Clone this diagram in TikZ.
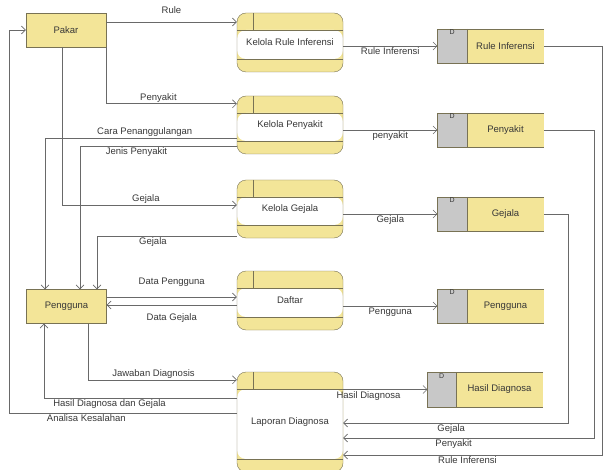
\documentclass[tikz,border=0pt]{standalone}
\usepackage{fontspec}
\setmainfont{Liberation Sans}
\usetikzlibrary{arrows.meta, positioning}
\definecolor{dfdyellow}{RGB}{243,229,152}
\definecolor{dfdgray}{RGB}{200,200,200}
\definecolor{dfdline}{RGB}{105,105,105}
\definecolor{dfdedge}{RGB}{120,114,84}
\definecolor{dfdtext}{RGB}{55,55,55}

\begin{document}
\begin{tikzpicture}[
    x=1pt, y=-1pt,
    font=\fontsize{9.5}{11}\selectfont,
    entity/.style={rectangle, draw=dfdedge, fill=dfdyellow, minimum width=80pt, minimum height=34pt, inner sep=0pt, text=dfdtext},
    process/.style={rectangle, rounded corners=9pt, draw=dfdedge, fill=dfdyellow, minimum width=106pt, inner sep=0pt, text=dfdtext,
        path picture={
            \fill[white] ([yshift=-17pt]path picture bounding box.north west) rectangle ([yshift=13pt]path picture bounding box.south east);
            \draw[dfdedge] ([yshift=-17pt]path picture bounding box.north west) -- ([yshift=-17pt]path picture bounding box.north east);
            \draw[dfdedge] ([yshift=13pt]path picture bounding box.south west) -- ([yshift=13pt]path picture bounding box.south east);
            \draw[dfdedge] ([xshift=16pt]path picture bounding box.north west) -- ([xshift=16pt, yshift=-17pt]path picture bounding box.north west);
        }},
    store/.style={rectangle, fill=dfdyellow, minimum width=77pt, minimum height=34pt, inner sep=0pt, text=dfdtext},
    storeid/.style={rectangle, fill=dfdgray, minimum width=29pt, minimum height=34pt, inner sep=0pt},
    flow/.style={draw=dfdline, line width=0.6pt, -{Straight Barb[length=4pt, width=8pt]}},
    lbl/.style={text=dfdtext, inner sep=1.5pt}
]
\useasboundingbox (0,0) rectangle (604,470);

% External entities
\node[entity] (pakar) at (66,30) {Pakar};
\node[entity] (pengguna) at (66.5,306.5) {Pengguna};

% Processes
\node[process, minimum height=59pt] (kRule) at (290,42.5) {Kelola Rule Inferensi};
\node[process, minimum height=58pt] (kPenyakit) at (290,125) {Kelola Penyakit};
\node[process, minimum height=58pt] (kGejala) at (290,209) {Kelola Gejala};
\node[process, minimum height=59pt] (daftar) at (290,300.5) {Daftar};
\node[process, minimum height=100pt] (laporan) at (290,422) {Laporan Diagnosa};

% Data stores
\node[store] (sRule) at (505.5,46) {Rule Inferensi};
\node[store] (sPenyakit) at (505.5,130) {Penyakit};
\node[store] (sGejala) at (505.5,214) {Gejala};
\node[store] (sPengguna) at (505.5,306) {Pengguna};
\node[store, minimum width=87pt] (sHasil) at (499.5,389.5) {Hasil Diagnosa};
\node[storeid, left=0pt of sRule] (dRule) {};
\node[storeid, left=0pt of sPenyakit] (dPenyakit) {};
\node[storeid, left=0pt of sGejala] (dGejala) {};
\node[storeid, left=0pt of sPengguna] (dPengguna) {};
\node[storeid, minimum width=28pt, left=0pt of sHasil] (dHasil) {};
\foreach \s in {Rule,Penyakit,Gejala,Pengguna,Hasil}{
    \draw[dfdedge] (s\s.north east) -- (d\s.north west) -- (d\s.south west) -- (s\s.south east);
    \draw[dfdedge] (d\s.north east) -- (d\s.south east);
    \node[font=\fontsize{7}{8}\selectfont, text=dfdtext, anchor=north, inner sep=1pt] (id\s) at (d\s.north) {D};
}

% Flows from Pakar
\draw[flow] ([yshift=8pt]pakar.east) -- node[lbl, above=7pt] {Rule} ([yshift=8pt]pakar.east -| kRule.west);
\draw[flow] (pakar.south east) |- node[lbl, above, pos=0.7] {Penyakit} ([yshift=-8pt]kPenyakit.north west);
\draw[flow] ([xshift=-4pt]pakar.south) |- node[lbl, above, pos=0.74] {Gejala} ([yshift=4pt]kGejala.west);

% Flows to Pengguna
\draw[flow] ([yshift=-13pt]kPenyakit.west) -| node[lbl, above, pos=0.24] {Cara Penanggulangan} ([xshift=-21.5pt]pengguna.north);
\draw[flow] ([yshift=-21pt]kPenyakit.west) -| node[lbl, below, pos=0.32] {Jenis Penyakit} ([xshift=13.5pt]pengguna.north);
\draw[flow] ([yshift=-27pt]kGejala.west) -| node[lbl, below, pos=0.3] {Gejala} ([xshift=30.5pt]pengguna.north);
\draw[flow] ([yshift=9.5pt]pengguna.east) -- node[lbl, above=9pt] {Data Pengguna} ([yshift=9.5pt]pengguna.east -| daftar.west);
\draw[flow] ([yshift=1.5pt]pengguna.east -| daftar.west) -- node[lbl, below=7pt] {Data Gejala} ([yshift=1.5pt]pengguna.east);
\draw[flow] ([xshift=21.5pt]pengguna.south) |- node[lbl, above, pos=0.72] {Jawaban Diagnosis} ([yshift=-8pt]laporan.north west);
\draw[flow] ([yshift=-26pt]laporan.north west) -| node[lbl, below, pos=0.33] {Hasil Diagnosa dan Gejala} ([xshift=-22.5pt]pengguna.south);
\draw[flow] ([yshift=-41pt]laporan.north west) -| node[lbl, below, pos=0.33] {Analisa Kesalahan} ([xshift=-17pt]pakar.west) -- (pakar.west);

% Flows to data stores
\draw[flow] (kRule.east |- dRule.west) -- node[lbl, below] {Rule Inferensi} (dRule.west);
\draw[flow] (kPenyakit.east |- dPenyakit.west) -- node[lbl, below] {penyakit} (dPenyakit.west);
\draw[flow] (kGejala.east |- dGejala.west) -- node[lbl, below] {Gejala} (dGejala.west);
\draw[flow] (daftar.east |- dPengguna.west) -- node[lbl, below] {Pengguna} (dPengguna.west);
\draw[flow] (laporan.east |- dHasil.west) -- node[lbl, below, pos=0.3] {Hasil Diagnosa} (dHasil.west);

% Flows back to Laporan Diagnosa
\draw[flow] (sGejala.east) -- ++(24,0) |- node[lbl, below, pos=0.76] {Gejala} ([yshift=-1pt]laporan.east);
\draw[flow] (sPenyakit.east) -- ++(50,0) |- node[lbl, below, pos=0.78] {Penyakit} ([yshift=-16pt]laporan.east);
\draw[flow] (sRule.east) -- ++(58,0) |- node[lbl, below, pos=0.76] {Rule Inferensi} ([yshift=-33pt]laporan.east);

\end{tikzpicture}
\end{document}
